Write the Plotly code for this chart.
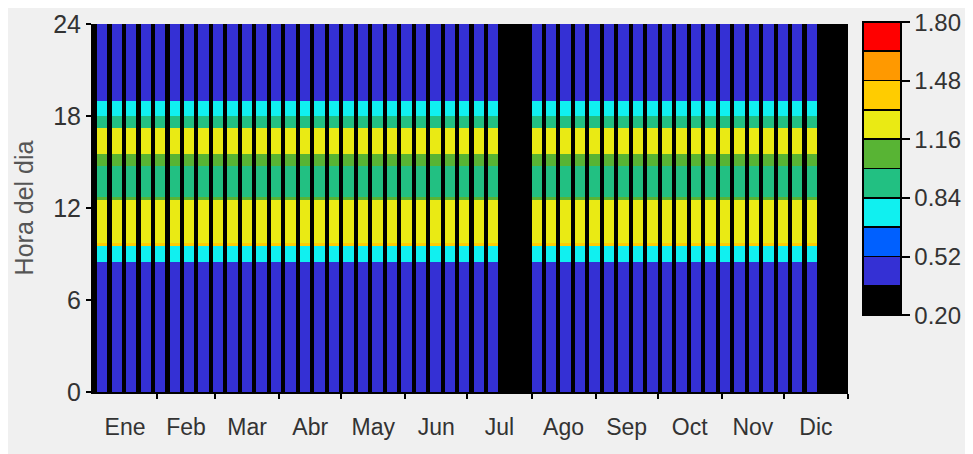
import plotly.graph_objects as go

# ---- data ----
MONTHS = ["Ene", "Feb", "Mar", "Abr", "May", "Jun", "Jul", "Ago", "Sep", "Oct", "Nov", "Dic"]
MONTH_DAYS = [31, 28, 31, 30, 31, 30, 31, 31, 30, 31, 30, 31]

# working-day hourly profile: segments (start hour, end hour, value)
SEG_START = [0.0, 8.5, 9.5, 9.75, 12.5, 12.75, 14.75, 15.5, 17.25, 18.0, 19.0]
SEG_END   = [8.5, 9.5, 9.75, 12.5, 12.75, 14.75, 15.5, 17.25, 18.0, 19.0, 24.0]
SEG_VALUE = [0.45, 0.76, 1.40, 1.25, 1.08, 0.94, 1.08, 1.25, 0.94, 0.76, 0.45]

OFF_VALUE = 0.20                 # weekends / holidays
FIRST_WEEKDAY = 5                # 1 Jan is a Saturday (Mon=0)
HOLIDAYS = [(197, 212), (351, 365)]   # inclusive day-of-year ranges

BAND_EDGES = [0.20, 0.36, 0.52, 0.68, 0.84, 1.00, 1.16, 1.32, 1.48, 1.64, 1.80]
BAND_COLORS = ["#000000", "#3430d4", "#0060ff", "#10f0f0", "#22c082",
               "#58b434", "#eaea14", "#ffcc00", "#ff9900", "#ff0000"]
CB_TICKS = [0.20, 0.52, 0.84, 1.16, 1.48, 1.80]
Y_TICKS = [0, 6, 12, 18, 24]

# ---- build matrix ----
STEP = 0.25
n_slots = int(24 / STEP)
profile = []
for i in range(n_slots):
    h = i * STEP + STEP / 2
    for s, e, v in zip(SEG_START, SEG_END, SEG_VALUE):
        if s <= h < e:
            profile.append(v)
            break

n_days = sum(MONTH_DAYS)
columns = []
for d in range(1, n_days + 1):
    wd = (FIRST_WEEKDAY + d - 1) % 7
    off = wd >= 5 or any(a <= d <= b for a, b in HOLIDAYS)
    columns.append([OFF_VALUE] * n_slots if off else profile)
z = [[columns[d][i] for d in range(n_days)] for i in range(n_slots)]

# discrete colour scale with thin black separators
zmin, zmax = BAND_EDGES[0], BAND_EDGES[-1]
def norm(v):
    return (v - zmin) / (zmax - zmin)
gap = 0.003
cs = []
for k, c in enumerate(BAND_COLORS):
    a, b = norm(BAND_EDGES[k]), norm(BAND_EDGES[k + 1])
    a2 = a + gap if k > 0 else a
    b2 = b - gap if k < len(BAND_COLORS) - 1 else b
    if k > 0:
        cs.append([a, "#000000"])
        cs.append([a2, "#000000"])
    cs.append([a2, c])
    cs.append([b2, c])
    if k < len(BAND_COLORS) - 1:
        cs.append([b2, "#000000"])

starts = []
acc = 0
for m in MONTH_DAYS:
    starts.append(acc)
    acc += m
mids = [s + m / 2 for s, m in zip(starts, MONTH_DAYS)]

FONT = "Liberation Sans Narrow, Arial Narrow, Liberation Sans, Arial, sans-serif"

fig = go.Figure(go.Heatmap(
    z=z, x0=0.5, dx=1, y0=STEP / 2, dy=STEP,
    colorscale=cs, zmin=zmin, zmax=zmax,
    colorbar=dict(
        tickvals=CB_TICKS, ticktext=[f"{v:.2f}" for v in CB_TICKS],
        ticks="outside", ticklen=8, tickwidth=2, tickcolor="#000000",
        outlinewidth=2, outlinecolor="#000000", ticklabeloverflow="allow",
        thickness=38, len=293 / 368, lenmode="fraction",
        x=1.02, xanchor="left", xpad=0, y=1.005, yanchor="top", ypad=0,
        tickfont=dict(family=FONT, size=24, color="#333333"),
    ),
    hoverinfo="skip",
))

fig.update_layout(
    width=973, height=454,
    margin=dict(l=85, r=133, t=16, b=70, autoexpand=False),
    paper_bgcolor="#f0f0f0", plot_bgcolor="#000000",
    font=dict(family=FONT, color="#333333"),
    xaxis=dict(
        range=[0, n_days], tickmode="array", tickvals=mids, ticktext=MONTHS,
        ticks="", showgrid=False, zeroline=False, ticklabelstandoff=13,
        showline=True, linecolor="#000000", linewidth=2, automargin=False,
        tickfont=dict(family=FONT, size=23, color="#333333"),
        minor=dict(tickmode="array", tickvals=starts[1:] + [n_days], ticks="outside",
                   ticklen=5, tickwidth=1.5, tickcolor="#000000", showgrid=False),
    ),
    yaxis=dict(
        range=[0, 24], tickmode="array", tickvals=Y_TICKS,
        ticks="outside", ticklen=5, tickwidth=1.5, tickcolor="#000000",
        showgrid=False, zeroline=False, ticklabeloverflow="allow", automargin=False,
        showline=True, linecolor="#000000", linewidth=2,
        tickfont=dict(family=FONT, size=25, color="#333333"),
        title=dict(text="Hora del dia", standoff=12,
                   font=dict(family=FONT, size=25, color="#555555")),
    ),
)

fig.write_html("out.html")
